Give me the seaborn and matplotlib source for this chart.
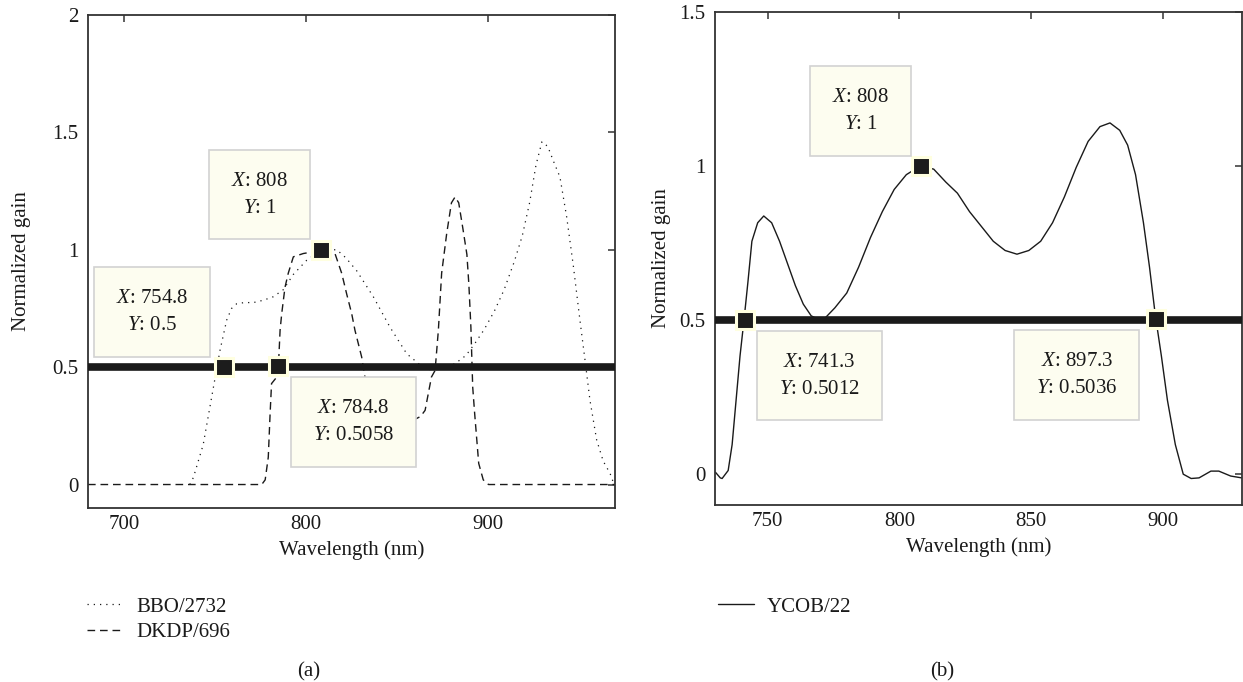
import numpy as np
import pandas as pd
import matplotlib
matplotlib.use("Agg")
import matplotlib.pyplot as plt
import seaborn as sns

# ---------------- data ----------------
bbo_x = [736, 738, 743.4, 748, 752.6, 756.3, 759, 761.8, 766, 771, 776.5, 782, 787.5, 793,
         800.3, 806, 811, 816.9, 822, 827.9, 837, 846.2, 855.4, 862.7, 868, 874, 882, 888,
         892.8, 898, 903.7, 909, 914.6, 919, 923, 926.5, 929.8, 933, 936, 939.7, 943.4,
         947.1, 950.7, 953.5, 956.2, 959.9, 963.5, 967.3, 969.5]
bbo_y = [0.0, 0.03, 0.17, 0.37, 0.57, 0.70, 0.75, 0.77, 0.775, 0.775, 0.785, 0.80, 0.83, 0.895,
         0.955, 0.985, 1.0, 1.0, 0.965, 0.91, 0.80, 0.67, 0.557, 0.51, 0.49, 0.49, 0.515, 0.55,
         0.60, 0.66, 0.74, 0.83, 0.95, 1.06, 1.2, 1.36, 1.46, 1.44, 1.38, 1.31, 1.14,
         0.93, 0.70, 0.53, 0.36, 0.19, 0.10, 0.047, 0.0]

dkdp_x = [680, 775.6, 777.5, 779.2, 780.2, 781, 783.8, 784.8, 785.7, 786.6, 788.4, 790.2, 793,
          798.5, 803, 808, 812, 815.9, 819.6, 822.4, 825.1, 826.9, 830.6, 832.4, 836, 842, 850,
          858, 863, 865.5, 869, 871, 872.8, 874.6, 877.4, 880, 882, 884, 886.3, 888.5, 889.6,
          890.7, 891.7, 892.8, 895, 897.5, 900.4, 970]
dkdp_y = [0, 0, 0.02, 0.116, 0.3, 0.43, 0.457, 0.5058, 0.657, 0.728, 0.84, 0.90, 0.97,
          0.984, 0.99, 1.0, 0.995, 0.984, 0.90, 0.81, 0.728, 0.657, 0.543, 0.458, 0.37, 0.30, 0.27,
          0.27, 0.29, 0.316, 0.458, 0.486, 0.657, 0.90, 1.07, 1.2, 1.225, 1.2, 1.09, 0.98, 0.85,
          0.67, 0.415, 0.30, 0.09, 0.02, 0.0, 0.0]

ycob_x = [730.2, 732, 732.7, 735, 736.5, 738, 739.5, 741, 742.5, 744, 746.2, 748.5, 751.5,
          754.5, 757.5, 760.5, 763.5, 766.5, 768.8, 771.8, 775.5, 780, 784.5, 789, 793.5, 798,
          802.6, 807.8, 813, 817.6, 822, 826.6, 831.1, 835.6, 840.1, 844.6, 849.1, 853.6, 858.1,
          862.6, 867.1, 871.6, 876.1, 879.9, 883.6, 886.6, 889.6, 892.6, 894.9, 897.1, 899.4,
          901.7, 904.7, 907.7, 910.7, 913.7, 918.2, 921.2, 925.7, 929.9]
ycob_y = [0.006, -0.012, -0.014, 0.012, 0.096, 0.24, 0.384, 0.50, 0.624, 0.756, 0.816, 0.838,
          0.816, 0.756, 0.684, 0.612, 0.552, 0.514, 0.504, 0.507, 0.54, 0.588, 0.672, 0.768,
          0.852, 0.924, 0.972, 1.0, 0.99, 0.948, 0.912, 0.852, 0.804, 0.756, 0.726, 0.714, 0.726,
          0.756, 0.816, 0.90, 0.996, 1.08, 1.128, 1.14, 1.116, 1.068, 0.972, 0.816, 0.672, 0.516,
          0.384, 0.24, 0.096, 0.0, -0.014, -0.012, 0.01, 0.01, -0.006, -0.012]

half_level = 0.5

tipsL_x = [808, 754.8, 784.8]
tipsL_y = [1, 0.5, 0.5058]
tipsR_x = [808, 741.3, 897.3]
tipsR_y = [1, 0.5012, 0.5036]

xticksL = [700, 800, 900]
yticksL = [0, 0.5, 1, 1.5, 2]
xticksR = [750, 800, 850, 900]
yticksR = [0, 0.5, 1, 1.5]

labels_a = ["BBO/2732", "DKDP/696"]
labels_b = ["YCOB/22"]

# ---------------- style ----------------
sns.set_theme(style="white")
plt.rcParams["font.family"] = ["Liberation Serif", "DejaVu Serif"]
plt.rcParams["mathtext.fontset"] = "custom"
plt.rcParams["mathtext.it"] = "Liberation Serif:italic"
plt.rcParams["mathtext.rm"] = "Liberation Serif"
FS = 15
INK = "#1a1a1a"
W, H = 1243, 682

fig = plt.figure(figsize=(W / 100, H / 100), dpi=100)
axL = fig.add_axes([88 / W, 1 - 508 / H, 527 / W, 493 / H])
axR = fig.add_axes([715 / W, 1 - 505 / H, 527 / W, 493 / H])

dfB = pd.DataFrame({"x": bbo_x, "y": bbo_y})
dfD = pd.DataFrame({"x": dkdp_x, "y": dkdp_y})
dfY = pd.DataFrame({"x": ycob_x, "y": ycob_y})

sns.lineplot(data=dfB, x="x", y="y", ax=axL, color=INK, lw=0.9, estimator=None, sort=False,
             linestyle=(0, (1, 4)), label=labels_a[0])
sns.lineplot(data=dfD, x="x", y="y", ax=axL, color=INK, lw=1.0, estimator=None, sort=False,
             linestyle=(0, (5.5, 3.5)), label=labels_a[1])
sns.lineplot(data=dfY, x="x", y="y", ax=axR, color=INK, lw=1.0, estimator=None, sort=False,
             label=labels_b[0])

for ax in (axL, axR):
    ax.axhline(half_level, color=INK, lw=5.5, zorder=4)

axL.set_xlim(680, 970)
axL.set_ylim(-0.1, 2)
axR.set_xlim(730, 930)
axR.set_ylim(-0.1, 1.5)
axL.set_xticks(xticksL)
axL.set_yticks(yticksL)
axR.set_xticks(xticksR)
axR.set_yticks(yticksR)
axL.set_yticklabels([f"{v:g}" for v in yticksL])
axR.set_yticklabels([f"{v:g}" for v in yticksR])

for ax in (axL, axR):
    for s in ax.spines.values():
        s.set_color("#333333")
        s.set_linewidth(1.3)
        s.set_visible(True)
    ax.tick_params(direction="in", top=True, right=True, length=5, width=1.1,
                   color="#333333", labelsize=FS, labelcolor=INK)
    ax.tick_params(axis="x", pad=5)
    ax.tick_params(axis="y", pad=7)
    ax.set_xlabel("Wavelength (nm)", fontsize=FS, color=INK)
    ax.set_ylabel("Normalized gain", fontsize=FS, color=INK)
    ax.set_facecolor("white")

axL.xaxis.set_label_coords(0.5, -0.066)
axR.xaxis.set_label_coords(0.5, -0.066)
axL.yaxis.set_label_coords(-0.108, 0.5)
axR.yaxis.set_label_coords(-0.084, 0.5)


def datatip(ax, x, y, dx, dy):
    ax.plot([x], [y], marker="s", ms=13.5, mfc="#1c1c1c", mec="#FFFFE0", mew=2.2,
            ls="none", zorder=6)
    txt = f"$\\mathit{{X}}$: {x:g}\n$\\mathit{{Y}}$: {y:g}"
    ax.annotate(txt, (x, y), xytext=(dx, dy), textcoords="offset pixels",
                ha="center", va="center", fontsize=FS, color=INK, linespacing=1.55,
                bbox=dict(boxstyle="square,pad=1.05", fc="#FDFDF0", ec="#D2D2D2", lw=1.2),
                zorder=7)


offsL = [(-61, 55), (-72, 55), (75, -56)]
offsR = [(-60, 55), (75, -56), (-79, -56)]
for (x, y), (dx, dy) in zip(zip(tipsL_x, tipsL_y), offsL):
    datatip(axL, x, y, dx, dy)
for (x, y), (dx, dy) in zip(zip(tipsR_x, tipsR_y), offsR):
    datatip(axR, x, y, dx, dy)

hL, lL = axL.get_legend_handles_labels()
axL.legend(hL, lL, loc="upper left", bbox_to_anchor=(87 / W, 1 - 597 / H),
           bbox_transform=fig.transFigure, frameon=False, fontsize=FS,
           handlelength=1.75, handletextpad=0.6, labelspacing=0.3,
           borderpad=0, borderaxespad=0, labelcolor=INK)
hR, lR = axR.get_legend_handles_labels()
axR.legend(hR, lR, loc="upper left", bbox_to_anchor=(718 / W, 1 - 597 / H),
           bbox_transform=fig.transFigure, frameon=False, fontsize=FS,
           handlelength=1.75, handletextpad=0.6, labelspacing=0.3,
           borderpad=0, borderaxespad=0, labelcolor=INK)

fig.text(309 / W, 1 - 672 / H, "(a)", ha="center", va="center", fontsize=FS, color=INK)
fig.text(942 / W, 1 - 672 / H, "(b)", ha="center", va="center", fontsize=FS, color=INK)

fig.savefig("out.png", dpi=100, facecolor="white")
